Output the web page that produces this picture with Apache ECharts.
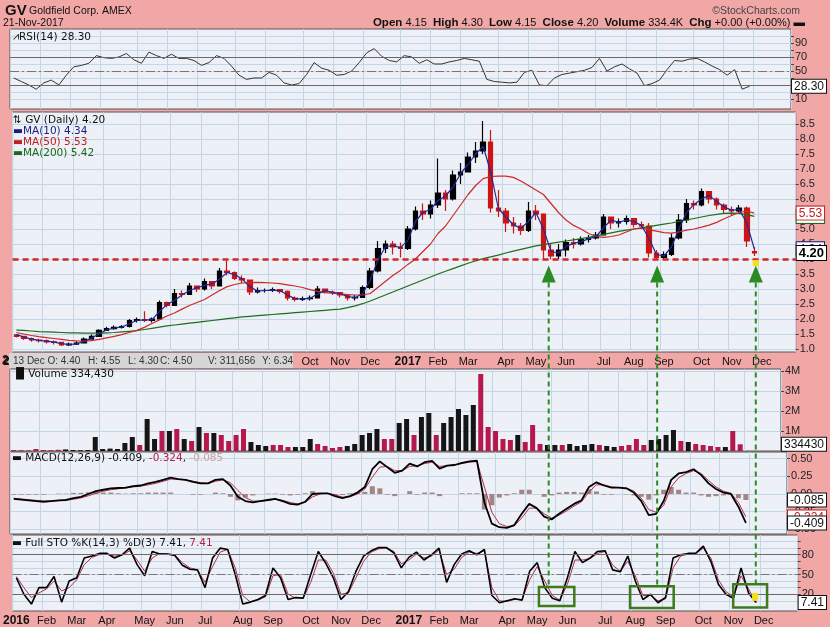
<!DOCTYPE html>
<html><head><meta charset="utf-8">
<script src="https://cdn.jsdelivr.net/npm/echarts@6/dist/echarts.min.js"></script>
<style>html,body{margin:0;padding:0;background:#f2a7a7}#c{width:830px;height:627px}</style>
</head><body><div id="c"></div>
<script>
// ---------- DATA (weekly samples, week starting Mon 2016-01-04) ----------
const openP = [1.47,1.42,1.35,1.30,1.28,1.24,1.22,1.14,1.16,1.20, 1.33,1.42,1.62,1.68,1.72,1.75,1.95,1.98,1.95,2.00, 2.55,2.45,2.85,2.82,3.10,3.00,3.25,3.10,3.60,3.55, 3.35,3.30,2.90,2.95,2.95,2.98,2.92,2.70,2.65,2.68, 2.70,3.00,2.90,2.88,2.80,2.70,2.72,3.05,3.60,4.35, 4.50,4.40,4.35,5.00,5.60,5.50,5.80,6.20,6.00,6.80, 6.90,7.40,7.60,7.90,5.70,5.60,5.20,5.10,4.95,5.60, 5.50,4.30,4.10,4.30,4.55,4.50,4.65,4.70,4.80,5.40, 5.20,5.25,5.35,5.15,5.10,4.20,4.05,4.15,4.70,5.30, 5.85,5.80,6.25,6.00,5.80,5.65,5.60,5.70,4.25];
const highP = [1.50,1.44,1.38,1.34,1.32,1.28,1.22,1.22,1.26,1.38, 1.48,1.66,1.74,1.78,1.80,2.00,2.05,2.26,2.05,2.62, 2.58,3.00,2.95,3.20,3.10,3.35,3.25,3.70,3.95,3.58, 3.45,3.30,3.05,3.02,3.05,3.00,2.95,2.75,2.75,2.78, 3.10,3.00,2.95,2.90,2.82,2.80,3.12,3.70,4.60,4.62, 4.60,4.55,5.10,5.75,5.85,5.95,7.35,6.30,6.95,7.20, 7.55,7.90,8.60,8.30,6.30,5.70,5.40,5.20,5.90,5.80, 5.50,4.50,4.50,4.65,4.70,4.75,4.80,4.90,5.50,5.40, 5.35,5.45,5.30,5.25,5.20,4.30,4.25,4.85,5.50,6.00, 5.95,6.35,6.25,6.05,5.85,5.75,5.80,5.75,4.40];
const lowP = [1.38,1.30,1.24,1.22,1.18,1.15,1.10,1.10,1.14,1.20, 1.32,1.40,1.60,1.64,1.68,1.72,1.88,1.90,1.88,2.00, 2.38,2.45,2.72,2.80,2.90,2.95,3.00,3.10,3.45,3.30, 3.20,2.80,2.85,2.88,2.90,2.85,2.62,2.58,2.60,2.62, 2.70,2.85,2.80,2.72,2.62,2.62,2.72,3.00,3.55,4.20, 4.15,4.05,4.30,4.95,5.30,5.35,5.70,5.60,5.95,6.50, 6.90,7.20,7.50,5.55,5.40,4.90,4.85,4.80,4.90,5.30, 4.00,4.00,4.00,4.08,4.35,4.45,4.55,4.65,4.78,5.00, 5.05,5.15,5.05,5.00,4.05,4.00,4.00,4.10,4.65,5.20, 5.65,5.75,5.85,5.65,5.50,5.45,5.55,4.40,4.10];
const closeP = [1.42,1.35,1.30,1.28,1.24,1.22,1.14,1.16,1.20,1.33, 1.42,1.62,1.68,1.72,1.75,1.95,1.98,1.95,2.00,2.55, 2.45,2.85,2.82,3.10,3.00,3.25,3.10,3.60,3.55,3.35, 3.30,2.90,2.95,2.95,2.98,2.92,2.70,2.65,2.68,2.70, 3.00,2.90,2.88,2.80,2.70,2.72,3.05,3.60,4.35,4.50, 4.40,4.35,5.00,5.60,5.50,5.80,6.20,6.00,6.80,6.90, 7.40,7.60,7.90,5.70,5.60,5.20,5.10,4.95,5.60,5.50, 4.30,4.10,4.30,4.55,4.50,4.65,4.70,4.80,5.40,5.20, 5.25,5.35,5.15,5.10,4.20,4.05,4.15,4.70,5.30,5.85, 5.80,6.25,6.00,5.80,5.65,5.60,5.70,4.60,4.20];
const ma10 = [1.48,1.40,1.33,1.29,1.26,1.23,1.18,1.15,1.17,1.25, 1.37,1.50,1.64,1.70,1.73,1.84,1.95,1.97,1.97,2.25, 2.48,2.62,2.80,2.95,3.04,3.12,3.17,3.33,3.55,3.48, 3.33,3.08,2.93,2.95,2.96,2.95,2.80,2.68,2.67,2.69, 2.83,2.95,2.89,2.84,2.75,2.71,2.85,3.30,3.95,4.40, 4.45,4.38,4.62,5.25,5.55,5.65,5.95,6.10,6.40,6.85, 7.15,7.50,7.75,6.90,5.70,5.40,5.15,5.02,5.25,5.55, 5.00,4.25,4.20,4.42,4.52,4.58,4.67,4.75,5.05,5.30, 5.22,5.30,5.25,5.12,4.70,4.15,4.10,4.40,5.00,5.55, 5.82,6.00,6.12,5.92,5.73,5.63,5.65,5.20,4.34];
const ma50 = [1.55,1.50,1.45,1.41,1.38,1.35,1.32,1.29,1.27,1.26, 1.28,1.32,1.37,1.42,1.48,1.55,1.62,1.72,1.85,1.97, 2.10,2.20,2.33,2.45,2.55,2.65,2.80,2.95,3.08,3.15, 3.20,3.21,3.22,3.21,3.20,3.18,3.14,3.10,3.05,2.98, 2.92,2.88,2.86,2.84,2.81,2.80,2.80,2.85,3.05,3.25, 3.45,3.62,3.82,4.00,4.25,4.50,4.85,5.10,5.45,5.80, 6.15,6.45,6.68,6.75,6.76,6.76,6.72,6.60,6.45,6.30, 6.15,5.85,5.55,5.30,5.12,5.00,4.85,4.75,4.72,4.75, 4.80,4.90,5.00,5.03,4.98,4.93,4.88,4.86,4.90,4.96, 5.00,5.06,5.13,5.22,5.34,5.45,5.55,5.60,5.53];
const ma200 = [1.63,1.62,1.60,1.58,1.57,1.56,1.55,1.54,1.54,1.53, 1.53,1.53,1.54,1.55,1.57,1.59,1.61,1.65,1.69,1.73, 1.77,1.80,1.83,1.86,1.89,1.92,1.95,1.98,2.01,2.04, 2.07,2.09,2.11,2.13,2.15,2.17,2.19,2.21,2.23,2.25, 2.27,2.29,2.31,2.33,2.38,2.44,2.51,2.60,2.70,2.80, 2.90,3.00,3.10,3.20,3.30,3.40,3.50,3.59,3.68,3.77, 3.86,3.94,4.01,4.07,4.13,4.20,4.26,4.32,4.38,4.44, 4.48,4.52,4.56,4.60,4.64,4.68,4.72,4.77,4.82,4.87, 4.92,4.96,5.00,5.04,5.08,5.12,5.16,5.20,5.25,5.30, 5.35,5.40,5.45,5.49,5.52,5.53,5.52,5.48,5.42];
const volumeM = [0.05,0.04,0.03,0.10,0.05,0.04,0.06,0.08,0.05,0.04, 0.05,0.70,0.10,0.12,0.10,0.40,0.70,0.30,1.60,0.60, 1.00,1.00,1.10,0.60,0.50,1.20,0.90,0.90,0.80,0.50, 0.80,1.10,0.45,0.30,0.25,0.30,0.30,0.20,0.20,0.20, 0.60,0.35,0.25,0.15,0.20,0.25,0.35,0.80,0.90,1.10, 0.60,0.60,1.40,1.60,0.80,1.70,1.90,0.80,1.40,1.70, 2.10,1.80,2.30,3.85,1.20,1.00,0.60,0.55,0.80,0.45, 1.30,0.35,0.30,0.30,0.30,0.35,0.25,0.30,0.35,0.30, 0.25,0.20,0.25,0.30,0.60,0.30,0.55,0.60,0.80,1.05, 0.50,0.45,0.35,0.30,0.25,0.20,0.20,1.00,0.33443];
const rsi = [40,35,30,24,33,37,30,44,56,58, 61,72,69,68,70,75,66,61,77,72, 68,74,68,68,65,58,62,72,68,57, 44,38,40,40,48,44,33,30,32,45, 62,54,51,44,45,50,62,76,82,71, 65,63,72,70,61,66,60,60,63,65, 68,66,64,38,35,34,33,34,48,51, 30,29,40,45,47,49,51,55,68,50, 56,60,53,47,29,32,37,52,65,64, 67,68,63,57,52,44,52,24,28.3];
const macdLine = [-0.07,-0.08,-0.09,-0.10,-0.11,-0.10,-0.09,-0.085,-0.06,-0.04, 0.0,0.04,0.06,0.08,0.085,0.09,0.11,0.12,0.15,0.17, 0.20,0.23,0.21,0.20,0.17,0.15,0.15,0.20,0.21,0.12, -0.04,-0.10,-0.12,-0.10,-0.085,-0.07,-0.10,-0.14,-0.15,-0.11, 0.0,0.01,0.01,-0.03,-0.06,-0.03,0.02,0.10,0.35,0.46, 0.38,0.30,0.33,0.43,0.39,0.45,0.47,0.36,0.40,0.41, 0.44,0.46,0.47,-0.12,-0.42,-0.47,-0.48,-0.44,-0.28,-0.14, -0.20,-0.32,-0.36,-0.28,-0.21,-0.14,-0.09,0.10,0.165,0.12, 0.09,0.09,0.08,0.02,-0.10,-0.30,-0.28,-0.10,0.20,0.29, 0.31,0.35,0.27,0.15,0.07,0.02,0.0,-0.18,-0.409];
const signalLine = [-0.06,-0.07,-0.08,-0.09,-0.10,-0.10,-0.095,-0.09,-0.075,-0.055, -0.025,0.01,0.04,0.06,0.075,0.085,0.10,0.11,0.13,0.15, 0.18,0.21,0.21,0.20,0.18,0.16,0.15,0.18,0.20,0.16, 0.05,-0.05,-0.10,-0.10,-0.09,-0.075,-0.09,-0.12,-0.14,-0.12, -0.04,0.0,0.01,-0.01,-0.045,-0.04,0.0,0.07,0.24,0.38, 0.39,0.33,0.33,0.39,0.40,0.43,0.45,0.39,0.40,0.41, 0.43,0.45,0.46,0.10,-0.26,-0.42,-0.46,-0.45,-0.34,-0.20, -0.20,-0.28,-0.34,-0.30,-0.24,-0.17,-0.11,0.03,0.13,0.13, 0.10,0.09,0.085,0.04,-0.06,-0.22,-0.26,-0.16,0.10,0.23, 0.29,0.33,0.29,0.19,0.10,0.04,0.01,-0.12,-0.324];
const stoK = [45,20,5,30,30,47,8,40,45,75, 78,82,82,75,80,90,65,48,85,81, 81,79,64,58,57,30,75,90,88,50, 5,8,12,18,60,45,12,15,14,50, 85,67,45,12,24,55,78,86,91,91, 83,60,76,84,72,80,90,38,65,81, 86,80,88,18,7,10,13,11,55,68, 30,14,10,45,85,68,75,85,86,57, 54,78,40,12,20,7,15,75,80,82, 82,93,70,35,20,14,60,22,7.41];
const stoD = [47,30,15,22,28,40,25,30,42,65, 76,80,81,78,79,86,72,55,75,82, 81,80,68,60,57,38,62,84,88,60, 18,8,11,16,48,50,20,14,14,38, 72,72,52,20,22,45,70,84,89,90, 85,66,72,81,75,78,87,50,58,76, 84,82,86,30,10,9,12,12,42,62, 40,18,11,35,72,72,74,82,85,64, 55,70,48,18,18,10,13,60,78,81, 82,90,75,42,24,16,48,28,7.41];

const priceTicks = [1.0,1.5,2.0,2.5,3.0,3.5,4.0,4.5,5.0,5.5,6.0,6.5,7.0,7.5,8.0,8.5];
const rsiLabels = [10,50,70,90];
const rsiTicks = [10,20,30,40,50,60,70,80,90,100];
const volTicks = [1,2,3,4];
const macdTicks = [-0.5,-0.25,0,0.25,0.5];
const stoLabels = [20,50,80];
const stoTicks = [10,20,30,40,50,60,70,80,90,100];
const monthNames = ['Jan','Feb','Mar','Apr','May','Jun','Jul','Aug','Sep','Oct','Nov','Dec'];
const N_CATS = 104;

// categories: week start dates
const categories = [];
const t0 = Date.UTC(2016,0,4);
for (let i=0;i<N_CATS;i++) categories.push(new Date(t0 + i*7*864e5).toISOString().slice(0,10));
const monthKey = categories.map(s => { const d = new Date(s+'T00:00:00Z'); d.setUTCDate(d.getUTCDate()+4); return d.getUTCFullYear()*12 + d.getUTCMonth(); });
const isMonthStart = i => i===0 || monthKey[i] !== monthKey[i-1];
const monthLabel = i => { const m = monthKey[i]%12, y = Math.floor(monthKey[i]/12); return m===0 ? '{y|'+y+'}' : monthNames[m]; };

const chart = echarts.init(document.getElementById('c'), null, {renderer:'canvas'});
const FONT = 'Liberation Sans';
const PANEL_BG = '#edf0f6';
const GRIDC = '#c3d6e6';
const grids = [
  {top:29, height:80}, {top:112, height:240}, {top:369, height:82}, {top:452, height:82}, {top:535, height:80}
].map(g => Object.assign({left:10, right:30, show:true, backgroundColor:PANEL_BG, borderColor:'#555', borderWidth:1}, g));

function xAx(gi, showLabels){
  return {type:'category', gridIndex:gi, data:categories, boundaryGap:true,
    axisLine:{show:false}, axisTick:{show:false},
    splitLine:{show:true, interval:(i)=>isMonthStart(i), lineStyle:{color:GRIDC, width:1}},
    axisLabel:{show:showLabels, interval:(i)=>isMonthStart(i), formatter:(v,i)=>monthLabel(i),
      color:'#111', fontSize:11, fontFamily:FONT, margin:4, rich:{y:{fontWeight:'bold', fontSize:12, fontFamily:FONT, color:'#111'}}}};
}
function yAx(gi, min, max, labels, ticks, fmt){
  return {type:'value', gridIndex:gi, position:'right', min, max, scale:true,
    axisLine:{show:false},
    axisTick:{show:true, length:3, customValues:ticks, lineStyle:{color:'#444'}},
    splitLine:{show:true, lineStyle:{color:GRIDC, width:1}},
    axisLabel:{customValues:labels, formatter:fmt, color:'#222', fontSize:11, fontFamily:FONT, margin:4}};
}
function tagAx(gi, min, max, vals, fmt, rich){
  return {type:'value', gridIndex:gi, position:'right', min, max, scale:true,
    axisLine:{show:false}, axisTick:{show:false}, splitLine:{show:false},
    axisLabel:{customValues:vals, formatter:fmt, rich, margin:1, fontSize:11, fontFamily:FONT}};
}
const tagStyle = (c, bold) => ({color:c, borderColor:c, borderWidth:1, backgroundColor:'#fff', padding:[1,2,0,2], fontSize: bold?13:12, fontWeight: bold?'bold':'normal', fontFamily:FONT});

const PR = [0.9, 8.9], RR=[-4.3,110], VR=[0,4.1], MR=[-0.566,0.594], SR=[-5.5,110];
const yAxes = [
  yAx(0, RR[0], RR[1], rsiLabels, rsiTicks, v=>String(v)),
  yAx(1, PR[0], PR[1], priceTicks, priceTicks, v=>v.toFixed(1)),
  yAx(2, VR[0], VR[1], volTicks, volTicks, v=>v+'M'),
  yAx(3, MR[0], MR[1], macdTicks, macdTicks, v=>v.toFixed(2)),
  yAx(4, SR[0], SR[1], stoLabels, stoTicks, v=>String(v)),
  tagAx(0, RR[0], RR[1], [28.3], v=>'{k|28.30}', {k:tagStyle('#111')}),
  tagAx(1, PR[0], PR[1], [5.42, 4.34], v=> v>5 ? '{g|5.42}' : '{b|4.34}', {g:tagStyle('#1a6a1a'), b:tagStyle('#1c1c80')}),
  tagAx(1, PR[0], PR[1], [5.53, 4.20], v=> v>5 ? '{r|5.53}' : '{k|4.20}', {r:tagStyle('#c02020'), k:tagStyle('#000', true)}),
  tagAx(2, VR[0], VR[1], [0.33443], v=>'{k|334430}', {k:tagStyle('#111')}),
  tagAx(3, MR[0], MR[1], [-0.085], v=>'{k|-0.085}', {k:tagStyle('#111')}),
  tagAx(3, MR[0], MR[1], [-0.324], v=>'{r|-0.324}', {r:tagStyle('#c02020')}),
  tagAx(3, MR[0], MR[1], [-0.409], v=>'{k|-0.409}', {k:tagStyle('#111')}),
  tagAx(4, SR[0], SR[1], [7.41], v=>'{k|7.41}', {k:tagStyle('#111')})
];

const candles = closeP.map((c,i)=>[openP[i], c, lowP[i], highP[i]]);
const volData = volumeM.map((v,i)=>({value:v, itemStyle:{color: closeP[i] >= openP[i] ? '#151515' : '#b5184c'}}));
const hist = macdLine.map((m,i)=> +(m - signalLine[i]).toFixed(4));
const refLine = (vals) => ({silent:true, symbol:'none', label:{show:false}, animation:false,
  data: vals.map(([v,dash]) => ({yAxis:v, lineStyle:{color: dash?'#777':'#6a6a6a', width:1, type: dash?[9,3,2,3]:'solid'}}))});
const lineS = (xi, yi, data, color, w, z, extra) => Object.assign({type:'line', xAxisIndex:xi, yAxisIndex:yi, data, symbol:'none', lineStyle:{color, width:w}, itemStyle:{color}, z: z||2}, extra||{});

const option = {
  animation:false,
  backgroundColor:'#f2a7a7',
  grid: grids,
  xAxis: [xAx(0,false), xAx(1,true), xAx(2,false), xAx(3,false), xAx(4,true)],
  yAxis: yAxes,
  series: [
    lineS(0,0,rsi,'#333',1,3,{markLine: refLine([[70,false],[30,false],[50,true]])}),
    {type:'candlestick', xAxisIndex:1, yAxisIndex:1, data:candles, barWidth:5,
      itemStyle:{color:'#000', color0:'#cc1515', borderColor:'#000', borderColor0:'#cc1515', borderWidth:1.2},
      markLine:{silent:true, symbol:'none', label:{show:false}, data:[{yAxis:4.0}], lineStyle:{color:'#d42525', width:2.5, type:[6,4]}}, z:3},
    lineS(1,1,ma200,'#1d6e1d',1.2,4),
    lineS(1,1,ma50,'#cc2a2a',1.2,4),
    lineS(1,1,ma10,'#1f2a9a',1.2,5),
    {type:'bar', xAxisIndex:2, yAxisIndex:2, data:volData, barWidth:5},
    {type:'bar', xAxisIndex:3, yAxisIndex:3, data:hist, barWidth:5, itemStyle:{color:'#a58484'}},
    lineS(3,3,signalLine,'#b23052',1,3),
    lineS(3,3,macdLine,'#000',1.8,4),
    lineS(4,4,stoD,'#b23052',1,3,{markLine: refLine([[80,false],[20,false],[50,true]])}),
    lineS(4,4,stoK,'#000',1.6,4)
  ]
};
chart.setOption(option);

// ---------- annotations ----------
const X = f => { const a = chart.convertToPixel({xAxisIndex:1}, 0), b = chart.convertToPixel({xAxisIndex:1}, 1); return a + f*(b-a); };
const YP = v => chart.convertToPixel({yAxisIndex:1}, v);
const YS = v => chart.convertToPixel({yAxisIndex:4}, v);
const arrowAt = [70.7, 85.1, 98.2];
const boxes = [[69.4, 74.1, 31, 2], [81.5, 87.3, 32, -1], [95.2, 99.7, 35, 0]];
const G = '#2b8a22';
const els = [];
arrowAt.forEach((f,k) => {
  const x = X(f), tip = YP(3.78), base = YP(3.22), end = YS(boxes[k][2]);
  els.push({type:'line', shape:{x1:x, y1:base, x2:x, y2:end}, style:{stroke:G, lineWidth:2, lineDash:[5,4]}, z:50});
  els.push({type:'polygon', shape:{points:[[x,tip],[x-7,base],[x+7,base]]}, style:{fill:G}, z:51});
});
boxes.forEach(b => {
  const x1 = X(b[0]), x2 = X(b[1]), y1 = YS(b[2]), y2 = YS(b[3]);
  els.push({type:'rect', shape:{x:x1, y:y1, width:x2-x1, height:y2-y1}, style:{fill:'none', stroke:'#3f7a1c', lineWidth:2.5}, z:52});
});
els.push({type:'rect', shape:{x:X(98.1)-3, y:YS(22), width:6, height:8}, style:{fill:'#f0e020'}, z:53});
els.push({type:'rect', shape:{x:X(98.2)-3, y:YP(4.0)+1, width:6, height:6}, style:{fill:'#f0e020'}, z:53});

const T = (x,y,text,opt) => Object.assign({type:'text', x, y, z:60, style:Object.assign({text, fill:'#111', font:'11px "'+FONT+'"', textVerticalAlign:'middle'}, opt||{})});
const DV = '"DejaVu Sans"';
// header
els.push(T(5,11,'GV',{font:'bold 15px "'+FONT+'"'}));
els.push(T(29,11,'Goldfield Corp. AMEX',{font:'10.5px "'+FONT+'"'}));
els.push(T(3,23,'21-Nov-2017',{font:'10.5px "'+FONT+'"'}));
els.push(T(800,11,'©StockCharts.com',{font:'10.5px "'+FONT+'"', fill:'#444', textAlign:'right'}));
els.push({type:'text', x:805, y:23, z:60, style:{textAlign:'right', textVerticalAlign:'middle',
  text:'{b|Open} 4.15  {b|High} 4.30  {b|Low} 4.15  {b|Close} 4.20  {b|Volume} 334.4K  {b|Chg} +0.00 (+0.00%) {b|▬}',
  font:'11px "'+FONT+'"', fill:'#111',
  rich:{b:{font:'bold 11.5px "'+FONT+'"', fill:'#111'}}}});
// panel legends
els.push(T(13,37,'⩘RSI(14) 28.30',{font:'10.5px '+DV}));
els.push(T(13,120,'⇅ GV (Daily) 4.20',{font:'10.5px '+DV}));
els.push(T(13,131,'▬MA(10) 4.34',{font:'10.5px '+DV, fill:'#1c1c80'}));
els.push(T(13,142,'▬MA(50) 5.53',{font:'10.5px '+DV, fill:'#c02020'}));
els.push(T(13,153,'▬MA(200) 5.42',{font:'10.5px '+DV, fill:'#1a6a1a'}));
els.push(T(12,374,'▐▌Volume 334,430',{font:'10.5px '+DV}));
els.push({type:'text', x:12, y:458, z:60, style:{text:'▬ MACD(12,26,9) -0.409, {r|-0.324}, {g|-0.085}', font:'10.5px '+DV, fill:'#111', textVerticalAlign:'middle',
  rich:{r:{fill:'#b8224a', font:'10.5px '+DV}, g:{fill:'#c9a2a2', font:'10.5px '+DV}}}});
els.push({type:'text', x:12, y:543, z:60, style:{text:'▬ Full STO %K(14,3) %D(3) 7.41, {r|7.41}', font:'10.5px '+DV, fill:'#111', textVerticalAlign:'middle',
  rich:{r:{fill:'#b8224a', font:'10.5px '+DV}}}});
// gray tooltip strip under price panel
els.push({type:'rect', shape:{x:9, y:353, width:284, height:15}, style:{fill:'#d6d6d6'}, z:55});
els.push(T(2,361,'2',{font:'bold 12px "'+FONT+'"'}));
const tipF = '10px "'+FONT+'"';
els.push(T(13,361,'13 Dec O: 4.40',{font:tipF, fill:'#333'}));
els.push(T(88,361,'H: 4.55',{font:tipF, fill:'#333'}));
els.push(T(128,361,'L: 4.30',{font:tipF, fill:'#333'}));
els.push(T(160,361,'C: 4.50',{font:tipF, fill:'#333'}));
els.push(T(208,361,'V: 311,656',{font:tipF, fill:'#333'}));
els.push(T(262,361,'Y: 6.34',{font:tipF, fill:'#333'}));

chart.setOption({graphic:[{elements:els}]});
</script></body></html>
